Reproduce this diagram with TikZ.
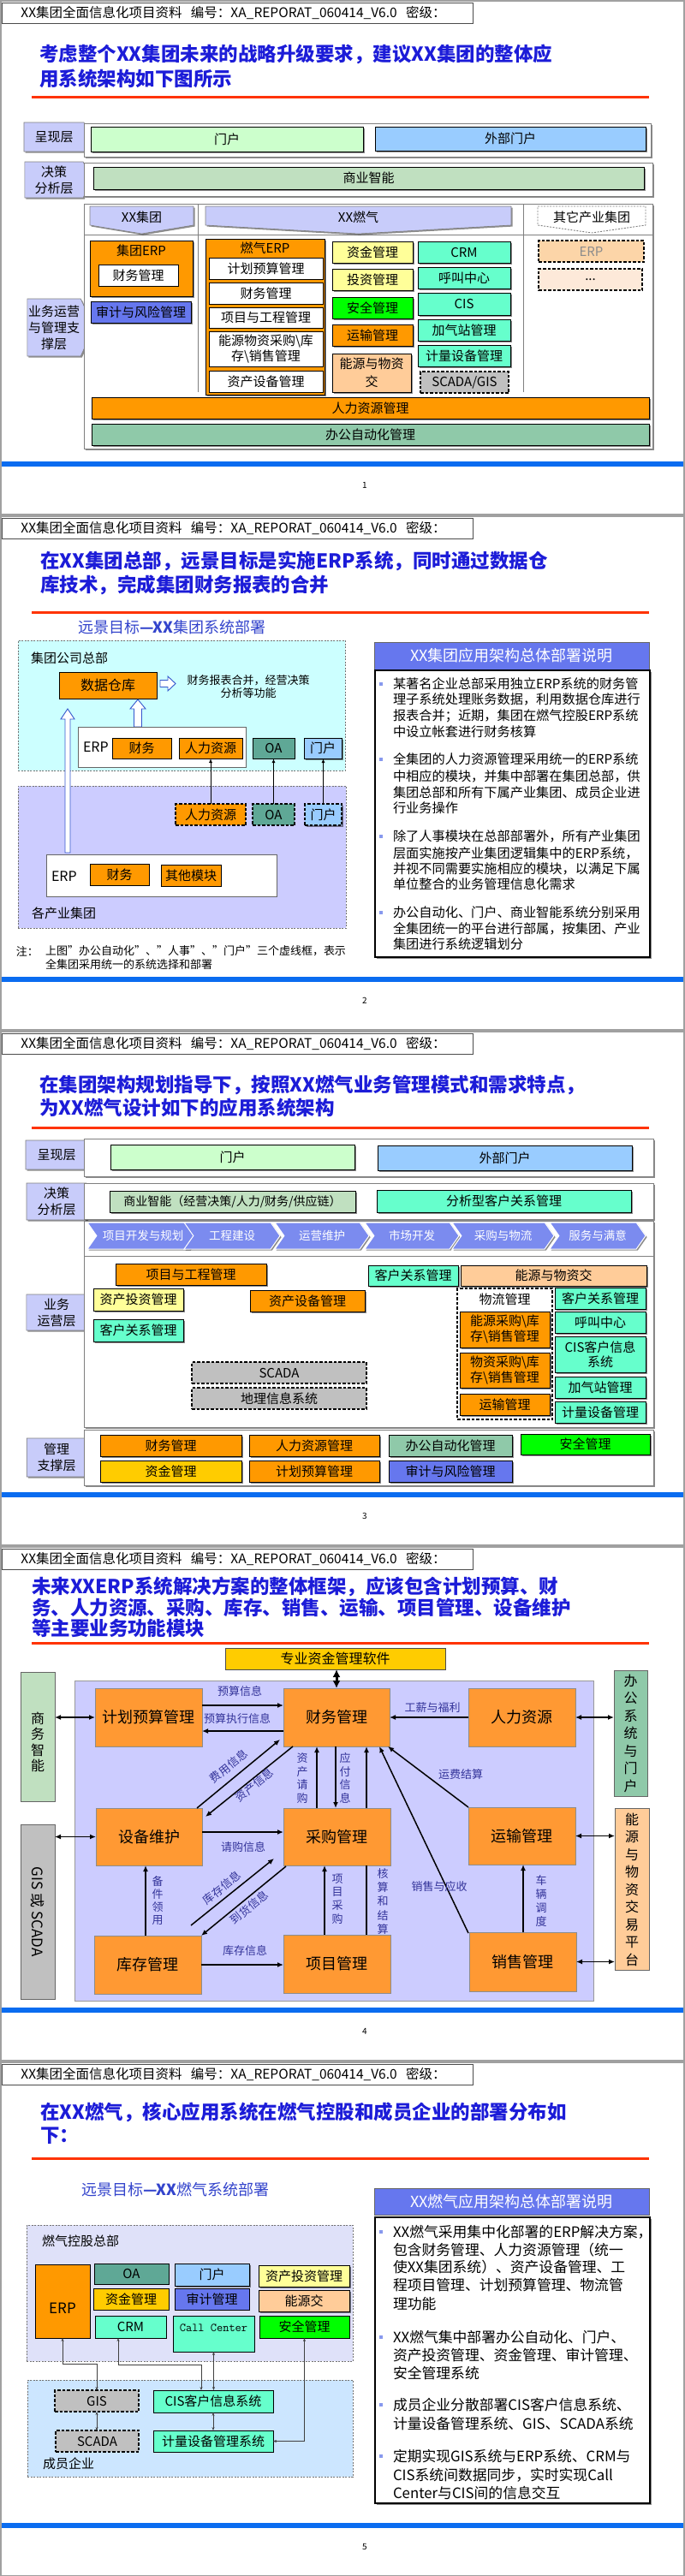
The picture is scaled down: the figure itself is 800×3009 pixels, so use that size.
\documentclass[tikz,border=0pt]{standalone}
\usepackage{fontspec}
\setmainfont{Noto Sans CJK SC}
\usetikzlibrary{shapes.symbols,shapes.geometric,arrows.meta,shadows,calc}
\newcommand\fs[2]{\fontsize{#1}{#2}\selectfont}
\definecolor{orng}{HTML}{FF9900}
\definecolor{orng4}{HTML}{FF9933}
\definecolor{aqua}{HTML}{66FFCC}
\definecolor{ylw}{HTML}{FFFF99}
\definecolor{gold}{HTML}{FFCC00}
\definecolor{peach}{HTML}{FFCC99}
\definecolor{lgrn}{HTML}{CCFFCC}
\definecolor{lblu}{HTML}{99CCFF}
\definecolor{bigrn}{HTML}{C0E0C0}
\definecolor{oagrn}{HTML}{8FC9A9}
\definecolor{teal2}{HTML}{5FA896}
\definecolor{audit}{HTML}{6677EE}
\definecolor{grayd}{HTML}{C0C0C0}
\definecolor{chev}{HTML}{7B8BEF}
\definecolor{lav}{HTML}{CCCCFF}
\definecolor{lblfill}{HTML}{C8CCFA}
\definecolor{cyan2}{HTML}{CCFFFF}
\definecolor{lav5}{HTML}{DFE1F9}
\definecolor{sky5}{HTML}{CCE6FF}
\definecolor{titleblue}{HTML}{1C1CD8}
\definecolor{subblue}{HTML}{3344CC}
\definecolor{lblc}{HTML}{333399}
\definecolor{redl}{HTML}{FF3300}
\definecolor{bluel}{HTML}{0A6CF0}
\definecolor{pagegray}{HTML}{A0A0A0}
\definecolor{boxgray}{HTML}{808080}
\definecolor{green2}{HTML}{00FF00}
\definecolor{peachl}{HTML}{FDE9D9}
\definecolor{peachm}{HTML}{FCD5A8}
\definecolor{harrow}{HTML}{3355CC}
\definecolor{bulc}{HTML}{8899EE}
\tikzset{
 bx/.style={draw=black, line width=0.9pt, inner sep=1pt, outer sep=0pt, align=center, font=\fs{15}{17}},
 shd/.style={drop shadow={shadow xshift=1.6pt, shadow yshift=-1.6pt, opacity=0.45, fill=black}},
 rowbox/.style={draw=boxgray, line width=1pt, fill=white, inner sep=0pt, outer sep=0pt, shd},
 lblsh/.style={signal, signal to=east, signal pointer angle=130, fill=lblfill, draw=boxgray, line width=0.6pt, inner sep=0pt, align=center, font=\fs{15}{19}, shd},
 chevn/.style={signal, signal to=east, signal from=west, signal pointer angle=110, fill=chev, draw=white, line width=1pt, text=white, minimum height=31pt, inner sep=0pt, font=\fs{13.5}{15}, shd},
 txt/.style={inner sep=0pt, outer sep=0pt, font=\fs{15}{17}},
 ttl/.style={font={\fs{22.5}{26}\bfseries}, text=titleblue},
 arr/.style={line width=1.5pt, -{Latex[length=7pt,width=6pt]}},
 arrd/.style={line width=1.5pt, {Latex[length=7pt,width=6pt]}-{Latex[length=7pt,width=6pt]}},
 thinarr/.style={line width=1pt, -{Latex[length=5pt,width=4pt]}},
 cn/.style={draw=black!75, line width=0.6pt, {Stealth[length=4pt,width=3pt]}-{Stealth[length=4pt,width=3pt]}},
 lab/.style={inner sep=0pt, font=\fs{13}{15}, text=lblc, align=center},
 dbox/.style={dash pattern=on 3.5pt off 2pt, line width=1.2pt},
 dbox2/.style={draw=black!55, dash pattern=on 2pt off 1.5pt, line width=0.9pt, inner sep=0pt, outer sep=0pt},
 divl/.style={draw=boxgray, line width=1pt},
 chevsh/.style={fill=lblfill, draw=boxgray, line width=0.6pt, shd},
 hdr/.style={draw=black!70, line width=0.8pt, fill=white, minimum height=24pt, inner xsep=22pt, text width=506pt, align=left, font=\fs{15.5}{18}},
 hollowar/.style={draw=harrow, fill=white, line width=0.9pt},
 ob/.style={bx, fill=orng4, draw=black!45, line width=0.8pt, font=\fs{18}{20}},
 bul/.style={fill=bulc, minimum size=4pt, inner sep=0pt, outer sep=0pt},
 rtitle/.style={bx, fill=audit, draw=black!60, text=white, font=\fs{18}{20}},
 tbox/.style={draw=black, line width=1.3pt, fill=white, inner sep=0pt, shd}
}
\newcommand\BX[7]{\node[#1, minimum width={(#5-#3)*1pt}, minimum height={(#6-#4)*1pt}] (#2) at ({(#3+#5)/2},{(#4+#6)/2}) {#7};}
\newcommand\TL[5][]{\node[txt,anchor=west,#1] (#2) at (#3,#4) {#5};}
\newcommand\SB[1]{%
 \fill[white] (2,2) rectangle (798,600);
 \node[hdr, anchor=north west] (hdr#1) at (2,3) {XX集团全面信息化项目资料\ \ 编号：XA\_REPORAT\_060414\_V6.0\ \ 密级：};
 \fill[redl] (37,112) rectangle (758,114.5);
 \fill[bluel] (2,539) rectangle (798,545);
 \node[txt, font=\fs{10}{12}] (pg#1) at (426,567) {#1};}
\begin{document}
\begin{tikzpicture}[x=1pt,y=-1pt]
\useasboundingbox (0,0) rectangle (800,3009);
\fill[pagegray] (0,0) rectangle (800,3009);
% ================= SLIDE 1
\begin{scope}
\SB{1}
\TL[ttl]{s1t1}{46}{63}{考虑整个XX集团未来的战略升级要求，建议XX集团的整体应}
\TL[ttl]{s1t2}{46}{92}{用系统架构如下图所示}
\node[lblsh, minimum width=78pt, minimum height=34pt] (s1L1) at (63,160) {呈现层};
\node[lblsh, minimum width=78pt, minimum height=42pt] (s1L2) at (63,210) {决策\\分析层};
\node[lblsh, minimum width=78pt, minimum height=67pt] (s1L3) at (63,382.5) {业务运营\\与管理支\\撑层};
\BX{rowbox}{s1R1}{98}{144}{760}{183}{}
\BX{bx,fill=lgrn,shd}{s1p1}{106}{148}{424}{177}{门户}
\BX{bx,fill=lblu,shd}{s1p2}{438}{148}{754}{176}{外部门户}
\BX{rowbox}{s1R2}{98}{190}{762}{229}{}
\BX{bx,fill=bigrn,shd}{s1bi}{109}{195}{752}{221}{商业智能}
\BX{rowbox}{s1R3}{98}{238}{762}{524}{}
\draw[divl] (231,238) -- (231,458) (611,238) -- (611,458) (98,274) -- (762,274);
\filldraw[chevsh] (105,241) -- (226,241) -- (226,263) -- (165.5,273) -- (105,263) -- cycle;
\node[txt] (s1hg) at (165.5,254) {XX集团};
\filldraw[chevsh] (240,241) -- (597,241) -- (597,263) -- (418.5,273) -- (240,263) -- cycle;
\node[txt] (s1hr) at (418.5,254) {XX燃气};
\filldraw[fill=white, draw=boxgray, line width=0.9pt, dash pattern=on 2pt off 1.5pt] (628,241) -- (754,241) -- (754,263) -- (691,272) -- (628,263) -- cycle;
\node[txt] (s1ho) at (691,254) {其它产业集团};
\BX{bx,fill=orng,shd}{s1gerp}{105}{281}{225}{346}{}
\node[txt] (s1gerpT) at (165,293) {集团ERP};
\BX{bx,fill=white}{s1gfin}{115}{309}{208}{334}{财务管理}
\BX{bx,fill=audit,shd}{s1audit}{106}{352}{223}{377}{审计与风险管理}
\BX{bx,fill=orng,shd}{s1rerp}{240}{279}{379}{461}{}
\node[txt] (s1rerpT) at (309.5,290) {燃气ERP};
\BX{bx,fill=white}{s1r1}{244}{301}{377}{326}{计划预算管理}
\BX{bx,fill=white}{s1r2}{244}{330}{377}{355}{财务管理}
\BX{bx,fill=white}{s1r3}{244}{359}{377}{383}{项目与工程管理}
\BX{bx,fill=white,font=\fs{15}{18}}{s1r4}{244}{387}{377}{428}{能源物资采购\textbackslash 库\\存\textbackslash 销售管理}
\BX{bx,fill=white}{s1r5}{244}{433}{377}{458}{资产设备管理}
\BX{bx,fill=ylw,shd}{s1c1}{388}{282}{482}{307}{资金管理}
\BX{bx,fill=ylw,shd}{s1c2}{388}{314}{482}{339}{投资管理}
\BX{bx,fill=green2,shd}{s1c3}{388}{347}{482}{372}{安全管理}
\BX{bx,fill=orng,shd}{s1c4}{388}{379}{482}{404}{运输管理}
\BX{bx,fill=peach,shd,font=\fs{15}{21}}{s1c5}{388}{413}{480}{458}{能源与物资\\交}
\BX{bx,fill=aqua,shd}{s1d1}{488}{282}{596}{307}{CRM}
\BX{bx,fill=aqua,shd}{s1d2}{488}{312}{596}{337}{呼叫中心}
\BX{bx,fill=aqua,shd}{s1d3}{488}{342}{596}{368}{CIS}
\BX{bx,fill=aqua,shd}{s1d4}{488}{373}{596}{398}{加气站管理}
\BX{bx,fill=aqua,shd}{s1d5}{488}{403}{596}{428}{计量设备管理}
\BX{bx,dbox,fill=grayd}{s1d6}{491}{434}{594}{459}{SCADA/GIS}
\BX{bx,dbox,fill=peachm,text=black!45}{s1e1}{629}{281}{752}{306}{ERP}
\BX{bx,dbox,fill=peachl}{s1e2}{629}{314}{750}{339}{...}
\BX{bx,fill=orng,shd}{s1hrm}{107}{464}{758}{489}{人力资源管理}
\BX{bx,fill=oagrn,shd}{s1oam}{107}{495}{758}{520}{办公自动化管理}
\end{scope}
% ================= SLIDE 2
\begin{scope}[shift={(0,602)}]
\SB{2}
\TL[ttl]{s2t1}{47}{53}{在XX集团总部，远景目标是实施ERP系统，同时通过数据仓}
\TL[ttl]{s2t2}{47}{81}{库技术，完成集团财务报表的合并}
\TL[font=\fs{18}{20},text=subblue]{s2sub}{91}{131}{远景目标\textbf{—XX}集团系统部署}
\BX{dbox2,fill=cyan2}{s2hq}{21}{146}{403}{298}{}
\BX{dbox2,fill=lav}{s2grp}{21}{316}{404}{482}{}
\TL{s2hqT}{36}{167}{集团公司总部}
\TL{s2grpT}{37}{465}{各产业集团}
\BX{bx,fill=orng,font=\fs{16}{18}}{s2dw}{69}{183}{183}{214}{数据仓库}
\filldraw[hollowar] (187,192.5) -- (196,192.5) -- (196,188) -- (205,196.5) -- (196,205) -- (196,200.5) -- (187,200.5) -- cycle;
\node[txt, align=center, font=\fs{13}{15}] (s2dwT) at (290,200.5) {财务报表合并，经营决策\\分析等功能};
\filldraw[hollowar] (156.5,247) -- (156.5,226) -- (152,226) -- (161,215) -- (170,226) -- (165.5,226) -- (165.5,247) -- cycle;
\filldraw[hollowar] (76,394) -- (76,238) -- (71,238) -- (79,226) -- (87,238) -- (82,238) -- (82,394) -- cycle;
\BX{bx,fill=white,draw=black!60}{s2erp}{91}{247}{287}{294}{}
\TL[font=\fs{16}{18}]{s2erpT}{97}{271}{ERP}
\BX{bx,fill=orng}{s2fin}{131}{260}{200}{284}{财务}
\BX{bx,fill=orng}{s2hr}{209}{260}{283}{284}{人力资源}
\BX{bx,fill=teal2}{s2oa}{295}{260}{344}{284}{OA}
\BX{bx,fill=lblu,shd}{s2po}{355}{260}{399}{284}{门户}
\BX{bx,dbox,fill=orng}{s2hrd}{205}{337}{287}{362}{人力资源}
\BX{bx,dbox,fill=teal2}{s2oad}{295}{337}{344}{362}{OA}
\BX{bx,dbox,fill=lblu,shd}{s2pod}{356}{337}{399}{362}{门户}
\draw[thinarr] (s2hrd.north) -- (s2hrd.north |- s2hr.south);
\draw[thinarr] (s2oad.north) -- (s2oad.north |- s2oa.south);
\draw[thinarr] (s2pod.north) -- (s2pod.north |- s2po.south);
\BX{bx,fill=white,draw=black!60}{s2erp2}{54}{396}{323}{445}{}
\TL[font=\fs{16}{18}]{s2erp2T}{60}{422}{ERP}
\BX{bx,fill=orng}{s2fin2}{105}{407}{174}{432}{财务}
\BX{bx,fill=orng}{s2oth}{188}{408}{258}{433}{其他模块}
\TL[font=\fs{13}{15}]{s2n0}{19}{509}{注：}
\TL[font=\fs{13}{15}]{s2n1}{53}{509}{上图"办公自动化"、"人事"、"门户"三个虚线框，表示}
\TL[font=\fs{13}{15}]{s2n2}{53}{525}{全集团采用统一的系统选择和部署}
\BX{rtitle}{s2rt}{437}{148}{758}{180}{XX集团应用架构总体部署说明}
\BX{tbox}{s2tb}{438}{181}{759}{516}{}
\begin{scope}[txt/.append style={font=\fs{15.2}{18}}]
\node[bul] (s2b1) at (445,197) {};
\TL{s2a1}{459}{197}{某著名企业总部采用独立ERP系统的财务管}
\TL{s2a2}{459}{215}{理子系统处理账务数据，利用数据仓库进行}
\TL{s2a3}{459}{234}{报表合并；近期，集团在燃气控股ERP系统}
\TL{s2a4}{459}{253}{中设立帐套进行财务核算}
\node[bul] (s2b2) at (445,285) {};
\TL{s2c1}{459}{285}{全集团的人力资源管理采用统一的ERP系统}
\TL{s2c2}{459}{305}{中相应的模块，并集中部署在集团总部，供}
\TL{s2c3}{459}{324}{集团总部和所有下属产业集团、成员企业进}
\TL{s2c4}{459}{342}{行业务操作}
\node[bul] (s2b3) at (445,375) {};
\TL{s2d1}{459}{375}{除了人事模块在总部部署外，所有产业集团}
\TL{s2d2}{459}{395}{层面实施按产业集团逻辑集中的ERP系统，}
\TL{s2d3}{459}{413}{并视不同需要实施相应的模块，以满足下属}
\TL{s2d4}{459}{431}{单位整合的业务管理信息化需求}
\node[bul] (s2b4) at (445,464) {};
\TL{s2e1}{459}{464}{办公自动化、门户、商业智能系统分别采用}
\TL{s2e2}{459}{483}{全集团统一的平台进行部属，按集团、产业}
\TL{s2e3}{459}{501}{集团进行系统逻辑划分}
\end{scope}
\end{scope}
% ================= SLIDE 3
\begin{scope}[shift={(0,1204)}]
\SB{3}
\TL[ttl]{s3t1}{46}{63}{在集团架构规划指导下，按照XX燃气业务管理模式和需求特点，}
\TL[ttl]{s3t2}{46}{90}{为XX燃气设计如下的应用系统架构}
\node[lblsh, minimum width=80pt, minimum height=34pt] (s3L1) at (66,145) {呈现层};
\node[lblsh, minimum width=80pt, minimum height=43pt] (s3L2) at (66,199.5) {决策\\分析层};
\node[lblsh, minimum width=80pt, minimum height=42pt] (s3L3) at (66,329) {业务\\运营层};
\node[lblsh, minimum width=80pt, minimum height=45pt] (s3L4) at (66,498.5) {管理\\支撑层};
\BX{rowbox}{s3R1}{98}{126}{763}{170}{}
\BX{bx,fill=lgrn,shd}{s3p1}{129}{133}{414}{162}{门户}
\BX{bx,fill=lblu,shd}{s3p2}{441}{134}{738}{163}{外部门户}
\BX{rowbox}{s3R2}{98}{178}{763}{220}{}
\BX{bx,fill=bigrn,shd,font=\fs{14}{16}}{s3bi}{128}{187}{415}{212}{商业智能（经营决策/人力/财务/供应链）}
\BX{bx,fill=aqua,shd}{s3abi}{440}{186}{737}{212}{分析型客户关系管理}
\BX{rowbox}{s3R3}{98}{222}{763}{463}{}
\draw[divl] (98,263) -- (763,263);
\node[chevn, minimum width=130pt] (s3c1) at (167,239.5) {项目开发与规划};
\node[chevn, minimum width=112pt] (s3c2) at (271,239.5) {工程建设};
\node[chevn, minimum width=110pt] (s3c3) at (376,239.5) {运营维护};
\node[chevn, minimum width=110pt] (s3c4) at (481,239.5) {市场开发};
\node[chevn, minimum width=119pt] (s3c5) at (587.5,239.5) {采购与物流};
\node[chevn, minimum width=112pt] (s3c6) at (698,239.5) {服务与满意};
\BX{bx,fill=orng,shd}{s3pm}{135}{272}{311}{297}{项目与工程管理}
\BX{bx,fill=aqua,shd}{s3crm0}{430}{274}{535}{298}{客户关系管理}
\BX{bx,fill=peach,shd}{s3en}{538}{274}{755}{298}{能源与物资交}
\BX{bx,fill=ylw,shd}{s3aim}{109}{301}{214}{327}{资产投资管理}
\BX{bx,fill=aqua,shd}{s3crm1}{109}{337}{214}{363}{客户关系管理}
\BX{bx,fill=orng,shd}{s3aem}{292}{303}{426}{328}{资产设备管理}
\BX{bx,dbox,fill=grayd}{s3scada}{224}{387}{428}{412}{SCADA}
\BX{bx,dbox,fill=grayd}{s3gis}{224}{417}{428}{442}{地理信息系统}
\BX{bx,dbox,fill=white}{s3log}{534}{301}{645}{454}{}
\node[txt] (s3logT) at (589.5,314) {物流管理};
\BX{bx,fill=orng,shd,font=\fs{15}{18}}{s3l1}{537}{328}{642}{370}{能源采购\textbackslash 库\\存\textbackslash 销售管理}
\BX{bx,fill=orng,shd,font=\fs{15}{18}}{s3l2}{537}{376}{642}{417}{物资采购\textbackslash 库\\存\textbackslash 销售管理}
\BX{bx,fill=orng,shd}{s3l3}{537}{424}{642}{449}{运输管理}
\BX{bx,fill=aqua,shd}{s3k1}{648}{300}{754}{325}{客户关系管理}
\BX{bx,fill=aqua,shd}{s3k2}{648}{328}{754}{353}{呼叫中心}
\BX{bx,fill=aqua,shd,font=\fs{15}{17}}{s3k3}{648}{357}{754}{399}{CIS客户信息\\系统}
\BX{bx,fill=aqua,shd}{s3k4}{648}{404}{754}{429}{加气站管理}
\BX{bx,fill=aqua,shd}{s3k5}{648}{433}{754}{458}{计量设备管理}
\BX{rowbox}{s3R4}{98}{466}{763}{531}{}
\BX{bx,fill=orng,shd}{s3m1}{117}{472}{282}{497}{财务管理}
\BX{bx,fill=orng,shd}{s3m2}{291}{472}{443}{497}{人力资源管理}
\BX{bx,fill=oagrn,shd}{s3m3}{454}{472}{598}{497}{办公自动化管理}
\BX{bx,fill=green2,shd}{s3m4}{608}{471}{759}{495}{安全管理}
\BX{bx,fill=gold,shd}{s3m5}{117}{502}{282}{527}{资金管理}
\BX{bx,fill=orng,shd}{s3m6}{291}{502}{443}{527}{计划预算管理}
\BX{bx,fill=audit,shd}{s3m7}{454}{502}{598}{527}{审计与风险管理}
\end{scope}
% ================= SLIDE 4
\begin{scope}[shift={(0,1806)}]
\SB{4}
\TL[ttl]{s4t1}{37}{47}{未来XXERP系统解决方案的整体框架，应该包含计划预算、财}
\TL[ttl]{s4t2}{37}{72}{务、人力资源、采购、库存、销售、运输、项目管理、设备维护}
\TL[ttl]{s4t3}{37}{96}{等主要业务功能模块}
\BX{bx,fill=gold,draw=black!70,font=\fs{16}{18}}{s4soft}{263}{119}{520}{144}{专业资金管理软件}
\BX{bx,fill=lav,draw=black!40,line width=0.8pt}{s4big}{87}{157}{693}{531}{}
\BX{bx,fill=bigrn,draw=black!60}{s4bi}{24}{147}{64}{298}{}
\node[txt,align=center,font=\fs{16}{18.5}] (s4biT) at (44,229) {商\\务\\智\\能};
\BX{bx,fill=grayd,draw=black!60}{s4gis}{24}{325}{64}{529}{}
\node[txt,rotate=-90,font=\fs{17}{19}] (s4gisT) at (44,427) {GIS 或 SCADA};
\BX{bx,fill=oagrn,draw=black!60}{s4oa}{717}{145}{756}{292}{}
\node[txt,align=center,font=\fs{16}{20.5}] (s4oaT) at (736.5,218.5) {办\\公\\系\\统\\与\\门\\户};
\BX{bx,fill=peach,draw=black!60}{s4en}{718}{306}{758}{495}{}
\node[txt,align=center,font=\fs{16}{20.5}] (s4enT) at (738,401) {能\\源\\与\\物\\资\\交\\易\\平\\台};
\BX{ob}{s4plan}{111}{166}{236}{234}{计划预算管理}
\BX{ob}{s4fin}{331}{166}{455}{234}{财务管理}
\BX{ob}{s4hr}{547}{166}{672}{234}{人力资源}
\BX{ob}{s4eq}{112}{306}{236}{373}{设备维护}
\BX{ob}{s4pur}{331}{306}{456}{373}{采购管理}
\BX{ob}{s4tr}{547}{305}{672}{372}{运输管理}
\BX{ob}{s4inv}{110}{455}{235}{523}{库存管理}
\BX{ob}{s4proj}{331}{454}{456}{522}{项目管理}
\BX{ob}{s4sale}{548}{451}{673}{520}{销售管理}
\draw[line width=3pt,{Latex[length=9pt,width=9pt]}-{Latex[length=9pt,width=9pt]}] (s4fin.north |- s4soft.south) -- (s4fin.north);
\draw[arrd] (s4bi.east |- s4plan.west) -- (s4plan.west);
\draw[arrd] (s4hr.east) -- (s4hr.east -| s4oa.west);
\draw[arrd] (s4gis.east |- s4eq.west) -- (s4eq.west);
\draw[arrd] (s4tr.east) -- (s4tr.east -| s4en.west);
\draw[arrd] (s4sale.east) -- (s4sale.east -| s4en.west);
\draw[arr] ($(s4plan.east)+(0,-14)$) -- ($(s4fin.west)+(0,-14)$);
\draw[arr] ($(s4fin.west)+(0,16)$) -- ($(s4plan.east)+(0,16)$);
\draw[arr] (s4hr.west) -- (s4fin.east);
\draw[arr] ($(s4eq.north east)+(-6,0)$) -- ($(s4fin.south west)+(-4,-8)$);
\draw[arr] ($(s4fin.south west)+(11,0)$) -- ($(s4eq.north east)+(4,10)$);
\draw[arr] ($(s4pur.north)+(-23.5,0)$) -- ($(s4fin.south)+(-23,0)$);
\draw[arr] ($(s4fin.south)+(-1,0)$) -- ($(s4pur.north)+(-1.5,0)$);
\draw[arr] ($(s4proj.north)+(34.5,0)$) -- ($(s4pur.south)+(34.5,0)$) ($(s4pur.north)+(34.5,0)$) -- ($(s4fin.south)+(35,0)$);
\draw[arr] ($(s4sale.north west)+(-1,1)$) -- ($(s4fin.south east)+(-12,0)$);
\draw[arr] (s4tr.north west) -- ($(s4fin.south east)+(-2,0)$);
\draw[arr] ($(s4eq.east)+(0,-5.5)$) -- ($(s4pur.west)+(0,-5.5)$);
\draw[arr] ($(s4inv.north east)+(-12,-12)$) -- ($(s4pur.south west)+(-11,-8)$);
\draw[arr] ($(s4pur.south west)+(3,1)$) -- (s4inv.north east);
\draw[arr] ($(s4inv.north)+(-2.5,0)$) -- ($(s4eq.south)+(-4,0)$);
\draw[arr] ($(s4proj.north)+(-14.5,0)$) -- ($(s4pur.south)+(-14.5,0)$);
\draw[arr] (s4inv.east) -- (s4inv.east -| s4proj.west);
\draw[arr] ($(s4sale.north)+(0.5,0)$) -- ($(s4tr.south)+(1.5,0)$);
\node[lab] (s4la) at (280,169) {预算信息};
\node[lab] (s4lb) at (277,201) {预算执行信息};
\node[lab] (s4lc) at (505,189) {工薪与福利};
\node[lab,rotate=39] (s4ld) at (267,257) {费用信息};
\node[lab,rotate=39] (s4le) at (297,279) {资产信息};
\node[lab,font=\fs{13}{15.7}] (s4lf) at (353,271) {资\\产\\请\\购};
\node[lab,font=\fs{13}{15.7}] (s4lg) at (403,271) {应\\付\\信\\息};
\node[lab,font=\fs{13}{16.2}] (s4lh) at (447,415) {核\\算\\和\\结\\算};
\node[lab] (s4li) at (513,398) {销售与应收};
\node[lab] (s4lj) at (538,267) {运费结算};
\node[lab] (s4lk) at (284,351) {请购信息};
\node[lab,rotate=39] (s4ll) at (259,399) {库存信息};
\node[lab,rotate=39] (s4lm) at (291,422) {到货信息};
\node[lab,font=\fs{13}{15.3}] (s4ln) at (184,414) {备\\件\\领\\用};
\node[lab,font=\fs{13}{15.7}] (s4lo) at (394,412) {项\\目\\采\\购};
\node[lab] (s4lp) at (286,472) {库存信息};
\node[lab,font=\fs{13}{15.7}] (s4lq) at (632,414.5) {车\\辆\\调\\度};
\end{scope}
% ================= SLIDE 5
\begin{scope}[shift={(0,2408)}]
\SB{5}
\TL[ttl]{s5t1}{47}{59}{在XX燃气，核心应用系统在燃气控股和成员企业的部署分布如}
\TL[ttl]{s5t2}{47}{87}{下：}
\TL[font=\fs{18}{20},text=subblue]{s5sub}{95}{150}{远景目标\textbf{—XX}燃气系统部署}
\BX{rtitle}{s5rt}{437}{148}{758}{179}{XX燃气应用架构总体部署说明}
\BX{tbox}{s5tb}{438}{182}{759}{516}{}
\begin{scope}[txt/.append style={font=\fs{16.8}{20}}]
\node[bul] (s5b1) at (445,199) {};
\TL{s5a1}{459}{199}{XX燃气采用集中化部署的ERP解决方案，}
\TL{s5a2}{459}{220}{包含财务管理、人力资源管理（统一}
\TL{s5a3}{459}{240}{使XX集团系统）、资产设备管理、工}
\TL{s5a4}{459}{261}{程项目管理、计划预算管理、物流管}
\TL{s5a5}{459}{283}{理功能}
\node[bul] (s5b2) at (445,322) {};
\TL{s5c1}{459}{322}{XX燃气集中部署办公自动化、门户、}
\TL{s5c2}{459}{343}{资产投资管理、资金管理、审计管理、}
\TL{s5c3}{459}{364}{安全管理系统}
\node[bul] (s5b3) at (445,401) {};
\TL{s5d1}{459}{401}{成员企业分散部署CIS客户信息系统、}
\TL{s5d2}{459}{423}{计量设备管理系统、GIS、SCADA系统}
\node[bul] (s5b4) at (445,461) {};
\TL{s5e1}{459}{461}{定期实现GIS系统与ERP系统、CRM与}
\TL{s5e2}{459}{483}{CIS系统间数据同步，实时实现Call}
\TL{s5e3}{459}{504}{Center与CIS间的信息交互}
\end{scope}
\BX{dbox2,fill=lav5}{s5hq}{31}{191}{412}{350}{}
\TL{s5hqT}{49}{210}{燃气控股总部}
\BX{bx,fill=orng}{s5erp}{41}{237}{105}{323}{}
\node[txt,font=\fs{17}{19}] (s5erpT) at (73,288) {ERP};
\BX{bx,fill=teal2}{s5oa}{110}{236}{197}{260}{OA}
\BX{bx,fill=lblu,shd}{s5po}{204}{236}{291}{262}{门户}
\BX{bx,fill=ylw,shd}{s5aim}{302}{238}{408}{263}{资产投资管理}
\BX{bx,fill=gold}{s5fund}{109}{265}{197}{290}{资金管理}
\BX{bx,fill=audit}{s5aud}{204}{265}{291}{290}{审计管理}
\BX{bx,fill=peach,shd}{s5ene}{302}{267}{408}{292}{能源交}
\BX{bx,fill=aqua}{s5crm}{111}{297}{194}{323}{CRM}
\BX{bx,fill=aqua}{s5cc}{202}{297}{297}{339}{}
\node[txt,font=\ttfamily\fs{14}{16}] (s5ccT) at (249.5,311) {Call Center};
\BX{bx,fill=green2}{s5safe}{303}{297}{408}{323}{安全管理}
\BX{dbox2,fill=sky5}{s5mem}{32}{372}{412}{485}{}
\TL{s5memT}{50}{470}{成员企业}
\BX{bx,dbox,fill=grayd}{s5gis}{64}{384}{162}{409}{GIS}
\BX{bx,dbox,fill=grayd}{s5scada}{65}{431}{162}{456}{SCADA}
\BX{bx,fill=aqua}{s5cis}{179}{384}{319}{410}{CIS客户信息系统}
\BX{bx,fill=aqua}{s5met}{179}{431}{319}{456}{计量设备管理系统}
\draw[cn] (s5erp.south) -- ++(0,30) -| (s5gis.north);
\draw[cn] ($(s5crm.south)+(-14.5,0)$) -- ++(0,31) -| ($(s5cis.north)+(-14,0)$);
\draw[cn] (s5cc.south) -- (s5cc.south |- s5cis.north);
\draw[cn] (s5gis.south) -- (s5gis.south |- s5scada.north);
\draw[cn] (s5cis.south) -- (s5cis.south |- s5met.north);
\draw[cn] (s5safe.south) |- (s5met.east);
\end{scope}
\end{tikzpicture}
\end{document}
